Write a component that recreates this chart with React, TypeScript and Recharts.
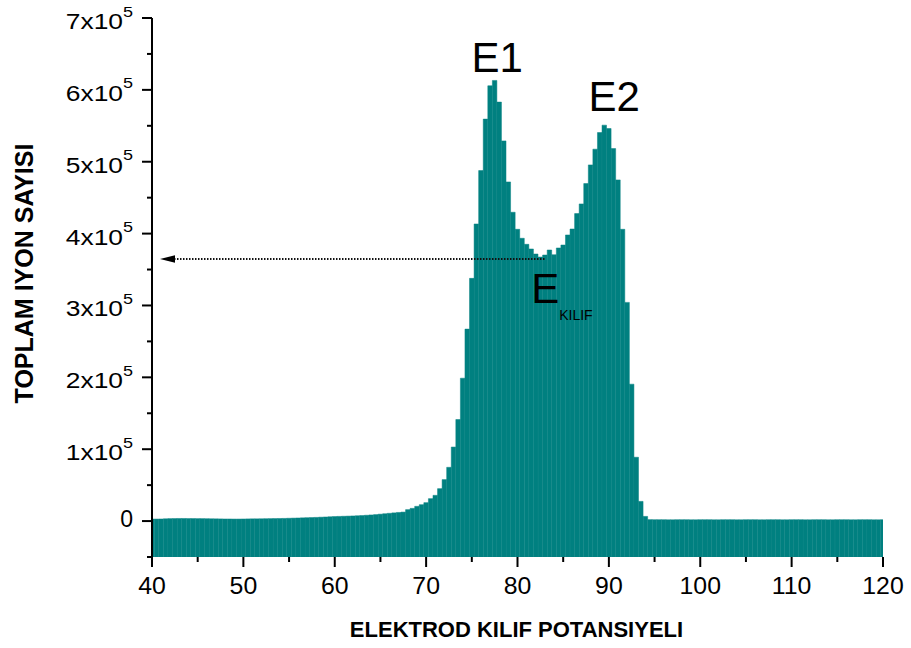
import React from 'react';
import { BarChart, Bar, XAxis, YAxis, ReferenceLine, ReferenceDot } from 'recharts';

const FONT = '"Liberation Sans", Arial, Helvetica, sans-serif';

// Histogram bins: 0.5 V wide, centred from 40 V to 120 V
const BIN_START = 40;
const BIN_WIDTH = 0.5;

// 40.0 ... 67.5
const leftTailCounts = [
  2800, 2800, 2900, 3200, 3400, 3500, 3600, 3600, 3500, 3500,
  3400, 3400, 3300, 3200, 3100, 3000, 2900, 2900, 2800, 2800,
  2900, 3000, 3100, 3100, 3200, 3300, 3400, 3500, 3600, 3700,
  3900, 4100, 4300, 4500, 4700, 4900, 5100, 5400, 5700, 6000,
  6300, 6500, 6700, 6900, 7100, 7400, 7700, 8100, 8500, 9000,
  9600, 10200, 10800, 11400, 12000, 12500,
];

// 68.0 ... 94.5
const peakCounts = [
  15900, 17700, 20500, 22800, 25600, 31200, 35800, 45100, 57700, 74800,
  103000, 141300, 198800, 267100, 337700, 413400, 487700, 559300, 605700, 613100,
  583000, 529000, 471900, 429700, 406000, 393500, 385100, 378600, 371600, 367400,
  370200, 377200, 370600, 380000, 384100, 398100, 406400, 427800, 441300, 469600,
  495600, 517500, 540600, 550900, 546200, 518300, 474700, 406000, 304300, 190500,
  88800, 27400, 6500, 2000,
];

// 95.0 ... 120.0
const rightTailCounts = [
  1900, 1900, 1900, 1800, 1800, 1900, 1900, 1900, 1800, 1800,
  1900, 1900, 1900, 1800, 1800, 1900, 1900, 1900, 1800, 1800,
  1900, 1900, 1900, 1800, 1800, 1900, 1900, 1900, 1800, 1800,
  1900, 1900, 1900, 1800, 1800, 1900, 1900, 1900, 1800, 1800,
  1900, 1900, 1900, 1800, 1800, 1900, 1900, 1900, 1800, 1800,
  1900,
];

const xTicks = [40, 45, 50, 55, 60, 65, 70, 75, 80, 85, 90, 95, 100, 105, 110, 115, 120];
const yTicks = [
  -50000, 0, 50000, 100000, 150000, 200000, 250000, 300000, 350000,
  400000, 450000, 500000, 550000, 600000, 650000, 700000,
];
const yMantissas: Record<number, string> = {
  100000: '1', 200000: '2', 300000: '3', 400000: '4', 500000: '5', 600000: '6', 700000: '7',
};
const Y_MIN = -50000;
const Y_MAX = 700000;

const peakLabels = [
  { name: 'E1', x: 74.97, y: 625000 },
  { name: 'E2', x: 87.76, y: 570000 },
];
const sheathLabel = { main: 'E', sub: 'KILIF', x: 81.5, y: 303400 };
const sheathArrow = { fromX: 83.0, toX: 40.875, y: 364600 };

const xTitle = 'ELEKTROD KILIF POTANSIYELI';
const yTitle = 'TOPLAM IYON SAYISI';

const counts = [...leftTailCounts, ...peakCounts, ...rightTailCounts];
const data = counts.map((c, i) => ({ potential: BIN_START + i * BIN_WIDTH, count: c }));

const YTick = (props: any) => {
  const { x, y, payload } = props;
  const v = payload.value as number;
  const major = v % 100000 === 0;
  return (
    <g>
      <line x1={x} x2={x - (major ? 10 : 5)} y1={y} y2={y} stroke="#000" strokeWidth={2} />
      {major && v === 0 && (
        <text x={x - 19} y={y + 6} textAnchor="end" fontSize={23} fontFamily={FONT} fill="#000">0</text>
      )}
      {major && v !== 0 && (
        <g transform={`translate(${x - 19}, ${y + 11}) scale(1.2, 1)`}>
          <text x={0} y={0} textAnchor="end" fontSize={22} fontFamily={FONT} fill="#000">
            {`${yMantissas[v]}x10`}
            <tspan fontSize={15} dy={-12.5}>5</tspan>
          </text>
        </g>
      )}
    </g>
  );
};

const XTick = (props: any) => {
  const { x, y, payload } = props;
  const v = payload.value as number;
  const major = v % 10 === 0;
  return (
    <g>
      <line x1={x} x2={x} y1={y} y2={y + (major ? 10 : 5)} stroke="#000" strokeWidth={2} />
      {major && (
        <g transform={`translate(${x}, ${y + 37}) scale(1.08, 1)`}>
          <text x={0} y={0} textAnchor="middle" fontSize={23} fontFamily={FONT} fill="#000">{v}</text>
        </g>
      )}
    </g>
  );
};

const ArrowShape = (p: any) => {
  const { x1, y1, x2 } = p;
  const left = Math.min(x1, x2);
  const right = Math.max(x1, x2);
  return (
    <g>
      <line x1={left + 14} y1={y1} x2={right} y2={y1} stroke="#111" strokeWidth={2} strokeDasharray="1.5 1.5" />
      <polygon points={`${left},${y1} ${left + 15},${y1 - 3.8} ${left + 15},${y1 + 3.8}`} fill="#000" />
    </g>
  );
};

const YTitle = (props: any) => {
  const vb = props.viewBox;
  const cx = 33;
  const cy = vb.y + vb.height / 2 - 14;
  return (
    <text x={cx} y={cy} transform={`rotate(-90, ${cx}, ${cy})`} textAnchor="middle" fontSize={25}
      fontWeight="bold" fontFamily={FONT} fill="#000">{yTitle}</text>
  );
};

const XTitle = (props: any) => {
  const vb = props.viewBox;
  return (
    <text x={vb.x + vb.width / 2 - 1} y={vb.y + 80} textAnchor="middle" fontSize={22}
      fontWeight="bold" fontFamily={FONT} fill="#000">{xTitle}</text>
  );
};

export default function App() {
  return (
    <div style={{ position: 'absolute', left: 0, top: 0, width: 911, height: 648, background: '#fff' }}>
      <BarChart
        width={911}
        height={648}
        data={data}
        margin={{ top: 18, right: 28, bottom: 0, left: 0 }}
        barCategoryGap={0}
        barGap={0}
      >
        <XAxis
          dataKey="potential"
          type="number"
          domain={[40, 120]}
          ticks={xTicks}
          interval={0}
          allowDataOverflow
          height={91}
          axisLine={false}
          tickLine={false}
          tickSize={0}
          tickMargin={0}
          tick={<XTick />}
          label={<XTitle />}
        />
        <YAxis
          type="number"
          domain={[Y_MIN, Y_MAX]}
          ticks={yTicks}
          interval={0}
          allowDataOverflow
          width={152}
          axisLine={{ stroke: '#000', strokeWidth: 2 }}
          tickLine={false}
          tickSize={0}
          tickMargin={0}
          tick={<YTick />}
          label={<YTitle />}
        />
        <Bar
          dataKey={(d: any) => [Y_MIN, d.count]}
          fill="#008080"
          stroke="#078383"
          strokeWidth={0.5}
          barSize={4.5}
          isAnimationActive={false}
        />
        <ReferenceLine
          segment={[{ x: sheathArrow.fromX, y: sheathArrow.y }, { x: sheathArrow.toX, y: sheathArrow.y }]}
          shape={<ArrowShape />}
        />
        {peakLabels.map((l) => (
          <ReferenceDot
            key={l.name}
            x={l.x}
            y={l.y}
            r={0}
            shape={(p: any) => (
              <text x={p.cx} y={p.cy} fontSize={42} fontFamily={FONT} fill="#000">{l.name}</text>
            )}
          />
        ))}
        <ReferenceDot
          x={sheathLabel.x}
          y={sheathLabel.y}
          r={0}
          shape={(p: any) => (
            <text x={p.cx} y={p.cy} fontSize={42} fontFamily={FONT} fill="#000">
              {sheathLabel.main}
              <tspan fontSize={14} dy={17}>{sheathLabel.sub}</tspan>
            </text>
          )}
        />
      </BarChart>
    </div>
  );
}
